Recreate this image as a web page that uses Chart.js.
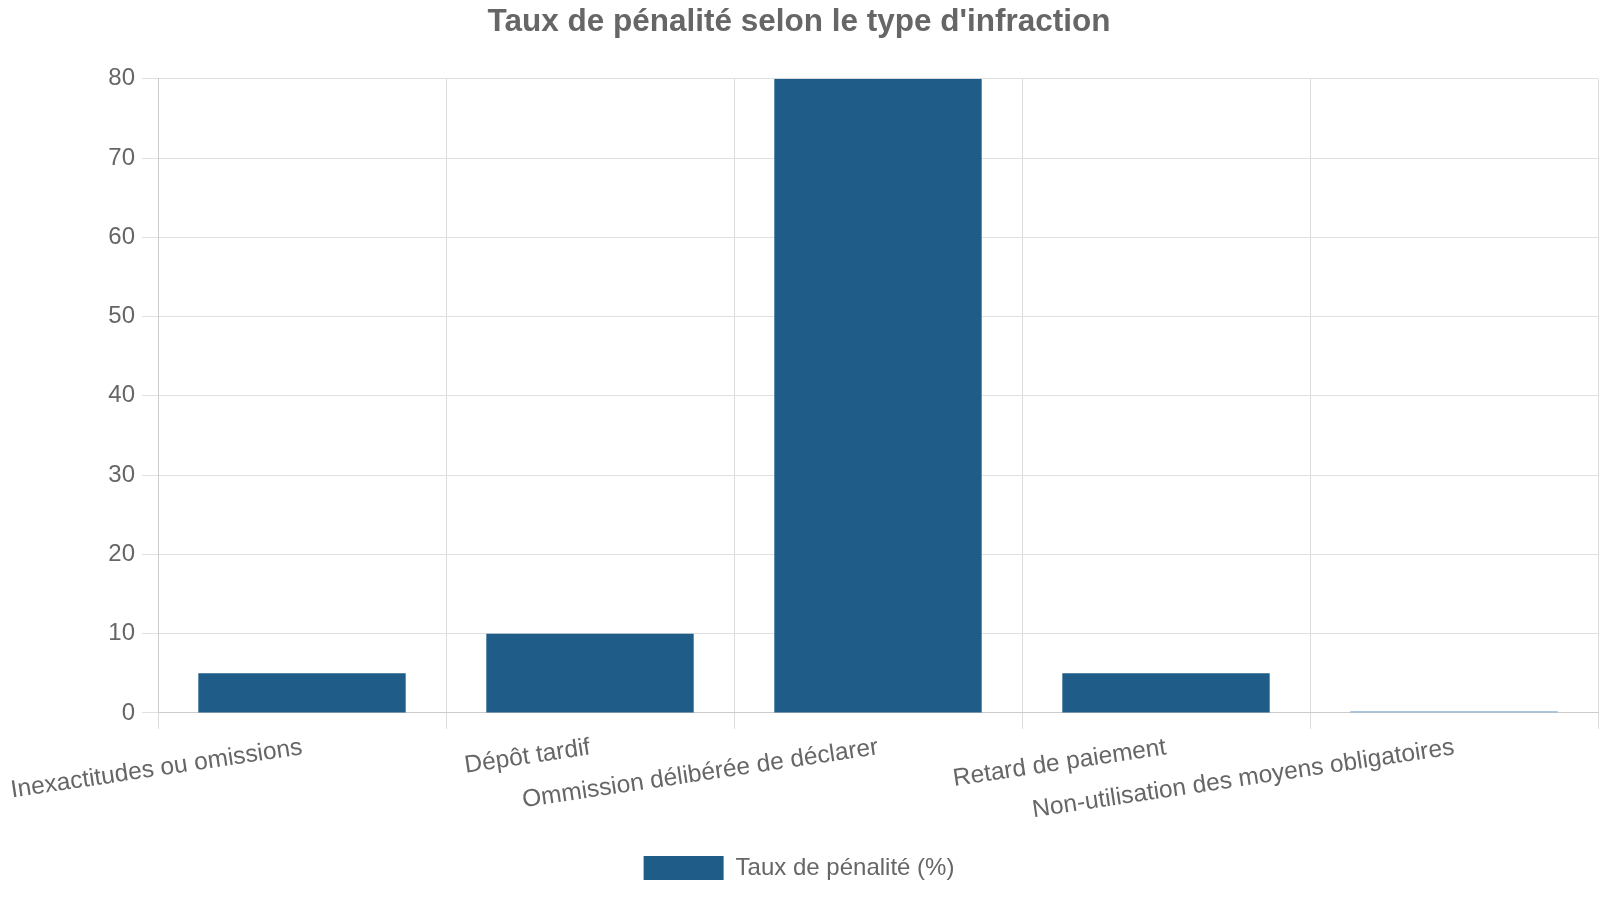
<!DOCTYPE html>
<html>
<head>
<meta charset="utf-8">
<script src="https://cdn.jsdelivr.net/npm/chart.js@4/dist/chart.umd.min.js"></script>
<style>
  html, body { margin: 0; padding: 0; background: #fff; }
  #wrap { width: 1600px; height: 900px; }
</style>
</head>
<body>
<div id="wrap"><canvas id="penalty-chart"></canvas></div>
<script>
// Données du graphique
const categories = [
    'Inexactitudes ou omissions',
    'Dépôt tardif',
    'Ommission délibérée de déclarer',
    'Retard de paiement',
    'Non-utilisation des moyens obligatoires'
];
const tauxPenalite = [5, 10, 80, 5, 0.2];
const barColors = ['#1f5c87', '#1f5c87', '#1f5c87', '#1f5c87', '#8fb3d0'];

Chart.defaults.font.family = '"Liberation Sans", Arial, sans-serif';
Chart.defaults.color = '#666';

const ctx = document.getElementById('penalty-chart');
new Chart(ctx, {
    type: 'bar',
    data: {
        labels: categories,
        datasets: [{
            label: 'Taux de pénalité (%)',
            data: tauxPenalite,
            backgroundColor: barColors,
            categoryPercentage: 0.8,
            barPercentage: 0.9
        }]
    },
    options: {
        responsive: true,
        maintainAspectRatio: false,
        animation: false,
        layout: { padding: { left: 0, right: 2, top: 0, bottom: 10 } },
        plugins: {
            title: {
                display: true,
                text: "Taux de pénalité selon le type d'infraction",
                font: { size: 31.5, weight: 'bold' },
                color: '#666',
                padding: { top: 3, bottom: 38 }
            },
            legend: {
                position: 'bottom',
                labels: {
                    font: { size: 24 },
                    boxWidth: 80,
                    boxHeight: 24,
                    padding: 21
                }
            }
        },
        scales: {
            x: {
                ticks: {
                    font: { size: 24.5 },
                    minRotation: 8.5,
                    maxRotation: 8.5,
                    autoSkip: false,
                    padding: 4
                },
                grid: { offset: true, color: '#dcdcdc', tickLength: 16 },
                border: { color: '#cccccc' },
                // espace entre les libellés et la légende
                afterFit: function (scale) {
                    scale.height += 6;
                    scale.paddingLeft = 0;
                }
            },
            y: {
                beginAtZero: true,
                max: 80,
                ticks: { stepSize: 10, font: { size: 24 }, padding: 7 },
                grid: { color: '#e0e0e0', tickLength: 16 },
                border: { color: '#cccccc' },
                // largeur fixe de l'axe vertical
                afterFit: function (scale) {
                    scale.width = 158;
                }
            }
        }
    }
});
</script>
</body>
</html>
